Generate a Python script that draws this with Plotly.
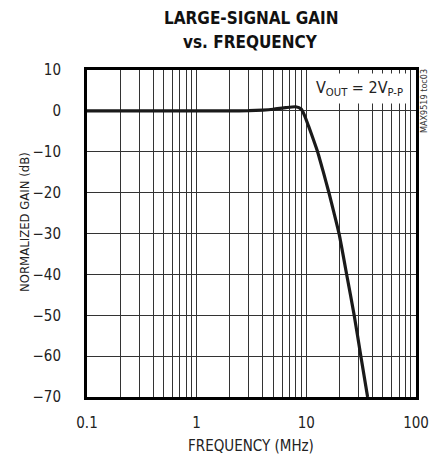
import plotly.graph_objects as go

freq_mhz = [0.1, 0.5, 1, 2, 3, 4, 5, 6.5, 8, 9, 9.66, 10.5, 11.7, 12.6, 14.3, 16.1, 17.9, 19.9, 23.5, 27.3, 31.5, 36.2]
gain_db = [0, 0, 0, 0, 0.05, 0.2, 0.4, 0.8, 1.0, 0.4, -1.2, -3.8, -7.3, -9.8, -15.0, -20.1, -25.0, -30.1, -40.5, -50.0, -60.2, -70.0]

x_grid = [0.1, 0.2, 0.3, 0.4, 0.5, 0.6, 0.7, 0.8, 0.9, 1, 2, 3, 4, 5, 6, 7, 8, 9, 10,
          20, 30, 40, 50, 60, 70, 80, 90, 100]
x_labels = {0.1: "0.1", 1: "1", 10: "10", 100: "100"}
y_ticks = [10, 0, -10, -20, -30, -40, -50, -60, -70]

FONT = "Liberation Sans Narrow, DejaVu Sans Condensed, sans-serif"
PLOT_H = 459 - 70 - 62
PLOT_W = 439 - 87 - 23

fig = go.Figure()
fig.add_trace(go.Scatter(
    x=freq_mhz, y=gain_db, mode="lines",
    line=dict(color="#1a1a1a", width=3.2, shape="spline", smoothing=0.5),
    showlegend=False, hoverinfo="skip",
))

fig.update_layout(
    width=439, height=459,
    margin=dict(l=87, r=23, t=70, b=62, autoexpand=False),
    paper_bgcolor="white", plot_bgcolor="white",
    font=dict(family=FONT, size=15, color="#222"),
    xaxis=dict(
        type="log", range=[-1, 2],
        tickvals=x_grid,
        ticktext=[x_labels.get(v, "") for v in x_grid],
        showgrid=True, gridcolor="#333", gridwidth=1,
        showline=True, linecolor="black", linewidth=3, mirror=True,
        ticks="", zeroline=False, ticklabelstandoff=10,
        tickfont=dict(family=FONT, size=15, color="#222"),
    ),
    yaxis=dict(
        range=[-70, 10],
        tickvals=y_ticks,
        showgrid=True, gridcolor="#333", gridwidth=1,
        showline=True, linecolor="black", linewidth=3, mirror=True,
        ticks="", zeroline=False, ticklabelstandoff=20,
        tickfont=dict(family=FONT, size=15, color="#222"),
    ),
)

def py(px_from_top):
    return 1 + (70 - px_from_top) / PLOT_H

def pxx(px_from_left):
    return (px_from_left - 87) / PLOT_W

# Title lines
fig.add_annotation(text="<b>LARGE-SIGNAL GAIN</b>", xref="paper", yref="paper",
                   x=pxx(251), y=py(18), xanchor="center", yanchor="middle",
                   showarrow=False, font=dict(family=FONT, size=17, color="#111"))
fig.add_annotation(text="<b>vs. FREQUENCY</b>", xref="paper", yref="paper",
                   x=pxx(250), y=py(42), xanchor="center", yanchor="middle",
                   showarrow=False, font=dict(family=FONT, size=17, color="#111"))

# Axis titles
fig.add_annotation(text="FREQUENCY (MHz)", xref="paper", yref="paper",
                   x=pxx(251), y=py(446), xanchor="center", yanchor="middle",
                   showarrow=False, font=dict(family=FONT, size=15, color="#222"))
fig.add_annotation(text="NORMALIZED GAIN (dB)", xref="paper", yref="paper",
                   x=pxx(25), y=py(222), xanchor="center", yanchor="middle",
                   textangle=-90, showarrow=False,
                   font=dict(family=FONT, size=13, color="#222"))

fig.add_annotation(
    text="V<sub>OUT</sub> = 2V<sub>P-P</sub>",
    xref="paper", yref="paper", x=pxx(408), y=py(73), xanchor="right", yanchor="top",
    showarrow=False, bgcolor="white", borderpad=4,
    font=dict(family=FONT, size=16, color="#222"),
)
fig.add_annotation(
    text="MAX9519 toc03",
    xref="paper", yref="paper", x=pxx(424), y=py(101), xanchor="center", yanchor="middle",
    textangle=-90, showarrow=False,
    font=dict(family=FONT, size=9, color="#333"),
)

fig.write_html("out.html", config={"displayModeBar": False},
               post_script="document.body.style.margin='0';")
